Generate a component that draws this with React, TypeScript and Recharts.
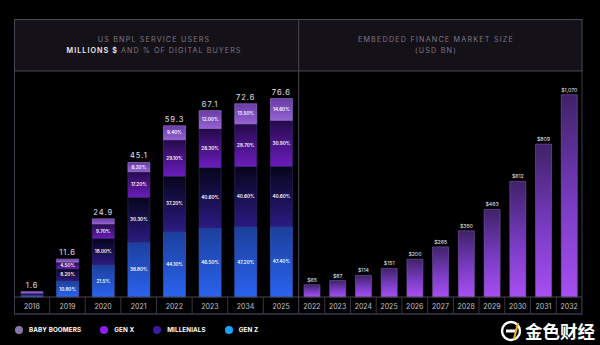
import React from 'react';
import { BarChart, Bar, XAxis, YAxis, LabelList } from 'recharts';

// ---------- Left chart: US BNPL service users ----------
const years = ['2018', '2019', '2020', '2021', '2022', '2023', '2034', '2025'];
const totals = [1.6, 11.6, 24.9, 45.1, 59.3, 67.1, 72.6, 76.6];
const genZ = [1.2, 10.8, 21.5, 36.8, 44.1, 46.5, 47.2, 47.4];
const millennials = [0.8, 8.2, 18.0, 30.3, 37.2, 40.6, 40.6, 40.6];
const genX = [0.8, 4.5, 9.7, 17.2, 24.5, 26.3, 28.7, 30.9];
const boomers = [0.8, 2.0, 3.4, 6.2, 9.4, 12.0, 13.5, 14.6];
const genZLabels = ['', '10.80%', '21.5%', '36.80%', '44.10%', '46.50%', '47.20%', '47.40%'];
const millLabels = ['', '8.20%', '18.00%', '30.30%', '37.20%', '40.60%', '40.60%', '40.60%'];
const genXLabels = ['', '4.50%', '9.70%', '17.20%', '29.10%', '26.30%', '28.70%', '30.90%'];
const boomerLabels = ['', '', '', '6.20%', '9.40%', '12.00%', '13.50%', '14.60%'];

// ---------- Right chart: embedded finance market size ----------
const marketYears = ['2022', '2023', '2024', '2025', '2026', '2027', '2028', '2029', '2030', '2031', '2032'];
const marketSize = [65, 87, 114, 151, 200, 265, 350, 463, 612, 809, 1070];

// ---------- Legend ----------
const legendNames = ['BABY BOOMERS', 'GEN X', 'MILLENIALS', 'GEN Z'];
const legendColors = ['#8a76a6', '#8b1cf2', '#3d1a9e', '#17a3ff'];

const usersData = years.map((y, i) => ({
  year: y,
  total: totals[i],
  genZ: genZ[i],
  mill: millennials[i],
  genX: genX[i],
  boomers: boomers[i],
  genZLabel: genZLabels[i],
  millLabel: millLabels[i],
  genXLabel: genXLabels[i],
  boomerLabel: boomerLabels[i],
}));

const marketData = marketYears.map((y, i) => ({ year: y, value: marketSize[i] }));

const FONT = 'Inter, "DejaVu Sans", sans-serif';

const SepTick = (props: any) => {
  const { x, y, payload } = props;
  const half = payload && payload.offset ? payload.offset : 0;
  return (
    <g>
      <text x={x} y={y + 12} textAnchor="middle" fill="#c6c3cd" fontSize={7} fontFamily={FONT}>
        {payload.value}
      </text>
      <line x1={x + half} x2={x + half} y1={y} y2={y + 17} stroke="#3a3542" strokeWidth={1} />
    </g>
  );
};

const segLabel = {
  position: 'center' as const,
  fill: '#ffffff',
  fontSize: 4.6,
  fontWeight: 600,
  fontFamily: FONT,
};

export default function App() {
  return (
    <div
      style={{
        position: 'fixed',
        left: 0,
        top: 0,
        width: 600,
        height: 345,
        background: '#000000',
        overflow: 'hidden',
      }}
    >
      <svg width={600} height={345} style={{ position: 'absolute', left: 0, top: 0 }}>
        <rect x={14.5} y={19.5} width={567.5} height={51.5} fill="#141118" stroke="#4d4855" strokeWidth={1} />
        <line x1={298.7} x2={298.7} y1={19.5} y2={314} stroke="#4d4855" strokeWidth={1} />
        <line x1={14.5} x2={14.5} y1={71} y2={314} stroke="#3f3a48" strokeWidth={1} />
        <line x1={582} x2={582} y1={71} y2={314} stroke="#3f3a48" strokeWidth={1} />
        <line x1={14} x2={582.5} y1={314} y2={314} stroke="#3d3550" strokeWidth={1.6} />
        <text x={154} y={41.5} textAnchor="middle" fill="#7f7788" fontSize={7.2} letterSpacing={1.15} fontFamily={FONT}>
          US BNPL SERVICE USERS
        </text>
        <text x={154} y={53.3} textAnchor="middle" fill="#7f7788" fontSize={7.2} letterSpacing={1.05} fontFamily={FONT}>
          <tspan fill="#ececf0" fontWeight={600}>MILLIONS $</tspan> AND % OF DIGITAL BUYERS
        </text>
        <text x={436} y={41.5} textAnchor="middle" fill="#7f7788" fontSize={7.2} letterSpacing={1.2} fontFamily={FONT}>
          EMBEDDED FINANCE MARKET SIZE
        </text>
        <text x={436} y={53.3} textAnchor="middle" fill="#7f7788" fontSize={7.2} letterSpacing={1.2} fontFamily={FONT}>
          (USD BN)
        </text>
        {/* watermark */}
        <circle cx={511} cy={331} r={9} fill="none" stroke="#ffffff" strokeWidth={2.4} />
        <rect x={506} y={329.5} width={10} height={3} fill="#ffffff" />
        <line x1={518} x2={514} y1={323} y2={339} stroke="#e8b020" strokeWidth={2} />
        <text x={525} y={338} fill="#ffffff" fontSize={17.5} fontWeight={700} fontFamily='"Noto Sans CJK SC", sans-serif'>
          金色财经
        </text>
      </svg>

      <div style={{ position: 'absolute', left: 14, top: 0 }}>
        <BarChart
          width={285}
          height={345}
          data={usersData}
          margin={{ top: 80, right: 0, bottom: 31, left: 0 }}
          barSize={22}
        >
          <defs>
            <linearGradient id="gGenZ" x1="0" y1="0" x2="0" y2="1">
              <stop offset="0%" stopColor="#1c3f9c" />
              <stop offset="100%" stopColor="#2a63ef" />
            </linearGradient>
            <linearGradient id="gMill" x1="0" y1="0" x2="0" y2="1">
              <stop offset="0%" stopColor="#06061a" />
              <stop offset="100%" stopColor="#2c1a82" />
            </linearGradient>
            <linearGradient id="gGenX" x1="0" y1="0" x2="0" y2="1">
              <stop offset="0%" stopColor="#240a48" />
              <stop offset="100%" stopColor="#6c1cbf" />
            </linearGradient>
            <linearGradient id="gBoom" x1="0" y1="0" x2="0" y2="1">
              <stop offset="0%" stopColor="#6a3aa6" />
              <stop offset="100%" stopColor="#9462d2" />
            </linearGradient>
          </defs>
          <XAxis
            dataKey="year"
            height={17}
            tickLine={false}
            tickSize={0}
            tickMargin={0}
            axisLine={{ stroke: '#4a4552', strokeWidth: 1 }}
            tick={<SepTick />}
            interval={0}
          />
          <YAxis hide domain={[0, 146]} />
          <Bar dataKey="genZ" stackId="u" fill="url(#gGenZ)" stroke="#3b62c8" strokeWidth={0.6} isAnimationActive={false}>
            <LabelList dataKey="genZLabel" {...segLabel} />
          </Bar>
          <Bar dataKey="mill" stackId="u" fill="url(#gMill)" stroke="#2e2a66" strokeWidth={0.6} isAnimationActive={false}>
            <LabelList dataKey="millLabel" {...segLabel} />
          </Bar>
          <Bar dataKey="genX" stackId="u" fill="url(#gGenX)" stroke="#4a2a80" strokeWidth={0.6} isAnimationActive={false}>
            <LabelList dataKey="genXLabel" {...segLabel} />
          </Bar>
          <Bar dataKey="boomers" stackId="u" fill="url(#gBoom)" stroke="#a080d8" strokeWidth={0.6} isAnimationActive={false}>
            <LabelList dataKey="boomerLabel" {...segLabel} />
            <LabelList
              dataKey="total"
              position="top"
              offset={4}
              fill="#e4e2ea"
              fontSize={7.5}
              letterSpacing={1}
              fontFamily={FONT}
            />
          </Bar>
        </BarChart>
      </div>

      <div style={{ position: 'absolute', left: 299, top: 0 }}>
        <BarChart
          width={283}
          height={345}
          data={marketData}
          margin={{ top: 80, right: 0, bottom: 31, left: 0 }}
          barSize={16}
        >
          <defs>
            <linearGradient id="gMarket" x1="0" y1="0" x2="0" y2="1">
              <stop offset="0%" stopColor="#3f2268" />
              <stop offset="55%" stopColor="#7a3cc4" />
              <stop offset="100%" stopColor="#a84ff2" />
            </linearGradient>
          </defs>
          <XAxis
            dataKey="year"
            height={17}
            tickLine={false}
            tickSize={0}
            tickMargin={0}
            axisLine={{ stroke: '#4a4552', strokeWidth: 1 }}
            tick={<SepTick />}
            interval={0}
          />
          <YAxis hide domain={[0, 1148]} />
          <Bar dataKey="value" fill="url(#gMarket)" stroke="#7a58a8" strokeWidth={0.6} isAnimationActive={false}>
            <LabelList
              dataKey="value"
              position="top"
              offset={3}
              fill="#eeeeee"
              fontSize={5.2}
              fontFamily={FONT}
              formatter={(v: any) => '$' + Number(v).toLocaleString('en-US')}
            />
          </Bar>
        </BarChart>
      </div>

      <div
        style={{
          position: 'absolute',
          left: 15,
          top: 326,
          display: 'flex',
          alignItems: 'center',
          fontFamily: FONT,
          fontSize: 6.3,
          fontWeight: 700,
          color: '#ffffff',
          letterSpacing: 0.1,
        }}
      >
        {legendNames.map((name, i) => (
          <div key={name} style={{ display: 'flex', alignItems: 'center', marginRight: 19 }}>
            <span
              style={{
                width: 8,
                height: 8,
                borderRadius: 4,
                background: legendColors[i],
                display: 'inline-block',
                marginRight: 6,
              }}
            />
            <span>{name}</span>
          </div>
        ))}
      </div>
    </div>
  );
}
